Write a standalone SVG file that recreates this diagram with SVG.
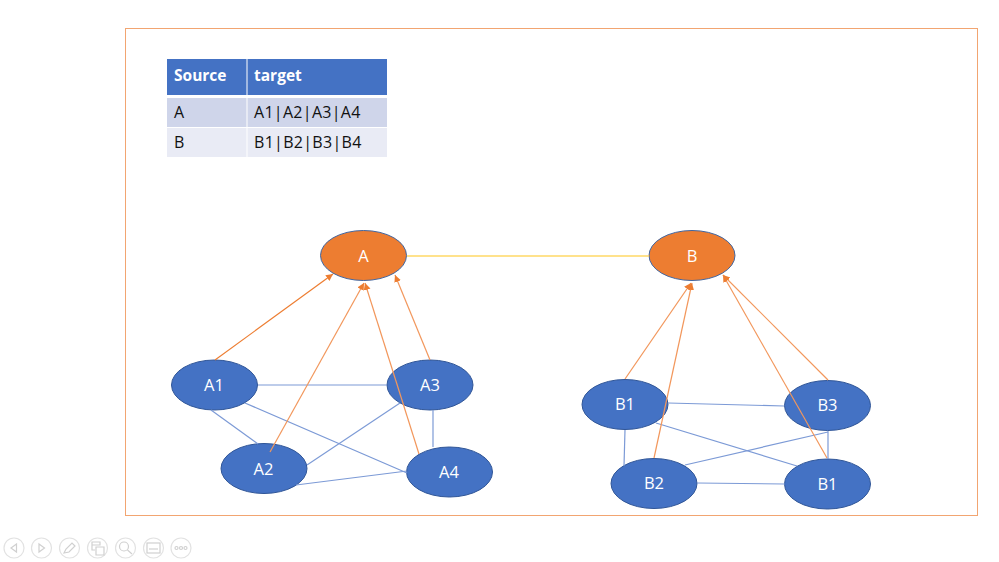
<svg xmlns="http://www.w3.org/2000/svg" width="999" height="562" viewBox="0 0 999 562">
<style>
  text { font-family: "Open Sans", "Noto Sans", sans-serif; }
  .node { fill: #4472c4; stroke: #2f5597; stroke-width: 1; }
  .root { fill: #ed7d31; stroke: #41659f; stroke-width: 1; }
  .nl { fill: #fff; font-size: 16.5px; text-anchor: middle; }
  .link { stroke: #7c9ad6; stroke-width: 1.2; fill: none; }
  .arr { stroke: #f2975c; stroke-width: 1.2; fill: none; marker-end: url(#tip); }
  .th { fill: #fff; font-size: 15.5px; font-weight: 700; }
  .td { fill: #111; font-size: 16px; letter-spacing: .3px; }
  .btn { fill: #fff; stroke: #e2e2e2; stroke-width: 1.2; }
  .ico { fill: none; stroke: #d0d0d0; stroke-width: 1.2; }
</style>
<defs>
  <marker id="tip" markerUnits="userSpaceOnUse" markerWidth="9" markerHeight="8" refX="7" refY="3.500" orient="auto">
    <path d="M0 0L7 3.500L0 7Z" fill="#ed7d31"/>
  </marker>
</defs>
<rect width="999" height="562" fill="#fff"/>
<rect x="125.500" y="28.500" width="852" height="487" fill="#fff" stroke="#f2a571" stroke-width="1"/>

<g id="source-table">
  <rect x="167" y="59" width="79.500" height="36" fill="#4472c4"/>
  <rect x="247.500" y="59" width="139.500" height="36" fill="#4472c4"/>
  <rect x="167" y="98" width="79.500" height="29" fill="#cfd5ea"/>
  <rect x="247.500" y="98" width="139.500" height="29" fill="#cfd5ea"/>
  <rect x="167" y="128" width="79.500" height="29" fill="#e9ebf5"/>
  <rect x="247.500" y="128" width="139.500" height="29" fill="#e9ebf5"/>
  <text class="th" x="174" y="80.500">Source</text>
  <text class="th" x="254" y="80.500">target</text>
  <text class="td" x="174" y="118">A</text>
  <text class="td" x="254" y="118">A1|A2|A3|A4</text>
  <text class="td" x="174" y="148">B</text>
  <text class="td" x="254" y="148">B1|B2|B3|B4</text>
</g>

<g id="node-A"><ellipse class="root" cx="363.500" cy="255.500" rx="43" ry="25"/><text class="nl" x="363.500" y="262">A</text></g>
<g id="node-B"><ellipse class="root" cx="692" cy="255.500" rx="43" ry="25"/><text class="nl" x="692" y="262">B</text></g>
<g id="node-A1"><ellipse class="node" cx="214.500" cy="385" rx="43" ry="25"/><text class="nl" x="214" y="391">A1</text></g>
<g id="node-A2"><ellipse class="node" cx="264" cy="468.500" rx="43" ry="25"/><text class="nl" x="263.500" y="475">A2</text></g>
<g id="node-A3"><ellipse class="node" cx="430" cy="385" rx="43" ry="25"/><text class="nl" x="430" y="391">A3</text></g>
<g id="node-A4"><ellipse class="node" cx="449.500" cy="472" rx="43" ry="25"/><text class="nl" x="449" y="478">A4</text></g>
<g id="node-B1"><ellipse class="node" cx="625" cy="404.500" rx="43" ry="25"/><text class="nl" x="625" y="410">B1</text></g>
<g id="node-B2"><ellipse class="node" cx="654" cy="483.500" rx="43" ry="25"/><text class="nl" x="654" y="489">B2</text></g>
<g id="node-B3"><ellipse class="node" cx="827.500" cy="405.500" rx="43" ry="25"/><text class="nl" x="827.500" y="411">B3</text></g>
<g id="node-B4"><ellipse class="node" cx="827.500" cy="484" rx="43" ry="25"/><text class="nl" x="827.500" y="490">B1</text></g>

<g id="connectors">
  <line x1="407" y1="256" x2="649" y2="256" stroke="#ffd966" stroke-width="1.500"/>
  <line class="link" x1="258" y1="385" x2="387" y2="385"/>
  <line class="link" x1="245" y1="403" x2="407" y2="473"/>
  <line class="link" x1="211" y1="410" x2="258" y2="444"/>
  <line class="link" x1="307" y1="465" x2="400" y2="403"/>
  <line class="link" x1="296" y1="485" x2="407" y2="471"/>
  <line class="link" x1="433" y1="410" x2="433" y2="447"/>
  <line class="arr" x1="215" y1="360" x2="333" y2="274" style="stroke:#ed7d31"/>
  <line class="arr" x1="270" y1="452" x2="364" y2="283"/>
  <line class="arr" x1="419" y1="454" x2="365" y2="283"/>
  <line class="arr" x1="430" y1="360" x2="395" y2="275"/>
  <line class="link" x1="668" y1="403" x2="784" y2="406"/>
  <line class="link" x1="656" y1="423" x2="797" y2="466"/>
  <line class="link" x1="625" y1="430" x2="624" y2="466"/>
  <line class="link" x1="685" y1="465" x2="828" y2="432"/>
  <line class="link" x1="697" y1="483" x2="785" y2="484"/>
  <line class="link" x1="828" y1="431" x2="828" y2="459"/>
  <line class="arr" x1="625" y1="379" x2="691" y2="283"/>
  <line class="arr" x1="654" y1="458" x2="692" y2="283"/>
  <line class="arr" x1="827" y1="458" x2="723" y2="275"/>
  <line class="arr" x1="828" y1="380" x2="723" y2="275"/>
</g>

<g id="slide-controls">
  <circle class="btn" cx="14" cy="548" r="10"/><path class="ico" d="M16.500 544L11 548L16.500 552Z"/>
  <circle class="btn" cx="41.500" cy="548" r="10"/><path class="ico" d="M39 544L44.500 548L39 552Z"/>
  <circle class="btn" cx="69.500" cy="548" r="10"/><path class="ico" d="M64 553L66 549L72 543L75 546L69 552Z"/>
  <circle class="btn" cx="97.500" cy="548" r="10"/><path class="ico" d="M92 542h8v3h-8zM92 545v5h3M96 547h8v8h-8z"/>
  <circle class="btn" cx="125.500" cy="548" r="10"/><circle class="ico" cx="124" cy="546.500" r="4.500"/><path class="ico" d="M127.500 550L132 554"/>
  <circle class="btn" cx="153.500" cy="548" r="10"/><rect class="ico" x="147" y="543" width="13" height="10"/><path class="ico" d="M149 549h9"/>
  <circle class="btn" cx="181" cy="548" r="10"/><circle class="ico" cx="176.500" cy="548" r="1.500"/><circle class="ico" cx="181" cy="548" r="1.500"/><circle class="ico" cx="185.500" cy="548" r="1.500"/>
</g>
</svg>
